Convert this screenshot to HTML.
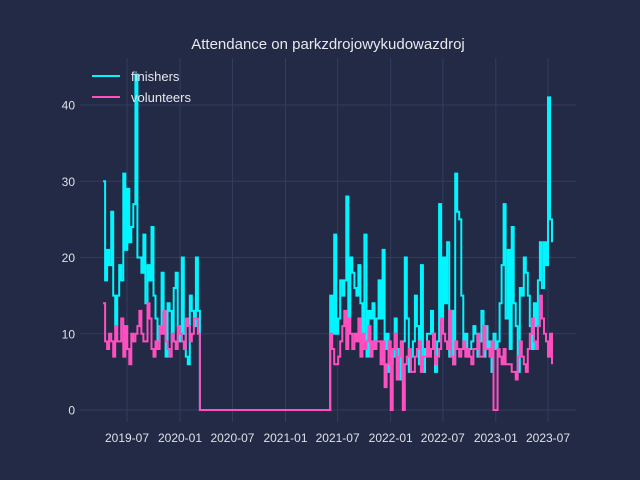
<!DOCTYPE html>
<html><head><meta charset="utf-8">
<style>
html,body{margin:0;padding:0;background:#222a45;}
svg{display:block;font-family:"Liberation Sans","DejaVu Sans",sans-serif;}
</style></head>
<body>
<svg id="chart" width="640" height="480" viewBox="0 0 640 480">
<rect x="0" y="0" width="640" height="480" fill="#222a45"/>
<g id="grid"></g>
<g id="ticks"></g>
<g id="series"></g>
<text x="328" y="49" text-anchor="middle" font-size="15" fill="#e8e8ee">Attendance on parkzdrojowykudowazdroj</text>
<g>
<g>
<line x1="92" y1="76" x2="120" y2="76" stroke="#00f5ff" stroke-width="2"/>
<text x="131" y="81" font-size="13" fill="#e8e8ee">finishers</text></g>
<g>
<line x1="92" y1="97" x2="120" y2="97" stroke="#ff4fbf" stroke-width="2"/>
<text x="131" y="102" font-size="13" fill="#e8e8ee">volunteers</text></g>
</g>
</svg>
<script>
const seg1Start = "2019-04-09";
const seg2Start = "2021-06-05";
const gapStart = "2020-03-10";
const finishers1 = [30,17,21,19,26,15,11,15,19,17,31,21,29,22,24,27,44,20,20,18,23,14,19,17,24,15,12,9,11,18,13,7,14,13,9,16,18,11,9,20,10,7,6,15,13,11,20,13];
const volunteers1 = [14,9,8,10,9,7,11,9,9,12,7,11,8,6,10,9,10,11,13,10,9,9,14,12,8,7,9,8,11,10,13,9,8,7,10,9,8,11,10,9,8,12,11,9,10,12,12,10];
const finishers2 = [15,10,23,10,12,17,15,17,28,12,20,18,16,15,19,14,
9,23,7,13,12,14,9,12,17,12,21,8,10,5,6,7,
12,8,4,7,9,20,12,5,7,9,15,11,6,19,5,8,
10,10,13,10,5,9,27,12,20,14,22,7,13,6,31,26,
25,15,8,10,7,8,9,11,10,7,9,13,7,11,8,9,
5,10,8,9,14,19,27,12,21,8,24,14,11,5,16,15,
20,18,15,11,8,14,11,17,22,16,22,19,41,25,22];
const volunteers2 = [10,8,6,6,7,9,11,13,8,12,10,8,10,9,12,7,
10,8,9,11,7,9,8,9,9,6,9,3,6,9,0,8,
10,4,7,9,0,6,7,8,5,5,7,8,9,5,7,7,
9,7,8,10,6,7,8,12,10,9,8,13,7,6,9,8,
7,8,9,7,8,7,6,8,8,10,7,7,11,8,8,7,
9,0,0,8,7,6,8,6,6,6,5,5,4,7,9,7,
6,5,8,10,12,9,8,11,15,12,10,9,7,10,6];
const yTicks = [0,10,20,30,40];
const xTickLabels = ["2019-07","2020-01","2020-07","2021-01","2021-07","2022-01","2022-07","2023-01","2023-07"];

const NS="http://www.w3.org/2000/svg";
const t0=Date.parse("2019-07-01"), t1=Date.parse("2023-07-01");
function xs(ms){return 127+(ms-t0)/(t1-t0)*(548-127);}
function ys(v){return 410-v*7.625;}
const DAY=86400000;
function weekly(start,n){const s=Date.parse(start);return Array.from({length:n},(_,i)=>s+i*7*DAY);}
const grid=document.getElementById('grid'),ticks=document.getElementById('ticks'),series=document.getElementById('series');
yTicks.forEach(v=>{
  const l=document.createElementNS(NS,'line');
  l.setAttribute('x1',80);l.setAttribute('x2',576);l.setAttribute('y1',ys(v));l.setAttribute('y2',ys(v));
  l.setAttribute('stroke','#323c5e');l.setAttribute('stroke-width','1');
  
  
  grid.appendChild(l);
  const t=document.createElementNS(NS,'text');
  t.setAttribute('x',75);t.setAttribute('y',ys(v)+4.5);t.setAttribute('text-anchor','end');
  t.setAttribute('font-size','12');t.setAttribute('fill','#e0e0e8');t.textContent=v;
  
  
  ticks.appendChild(t);
});
xTickLabels.forEach(s=>{
  const x=xs(Date.parse(s+"-01"));
  const l=document.createElementNS(NS,'line');
  l.setAttribute('x1',x);l.setAttribute('x2',x);l.setAttribute('y1',58);l.setAttribute('y2',422);
  l.setAttribute('stroke','#323c5e');l.setAttribute('stroke-width','1');
  
  
  grid.appendChild(l);
  const t=document.createElementNS(NS,'text');
  t.setAttribute('x',x);t.setAttribute('y',442);t.setAttribute('text-anchor','middle');
  t.setAttribute('font-size','12');t.setAttribute('fill','#e0e0e8');t.textContent=s;
  
  
  ticks.appendChild(t);
});
function buildPts(a,b){
  const d1=weekly(seg1Start,a.length), d2=weekly(seg2Start,b.length);
  const pts=[];
  d1.forEach((d,i)=>pts.push([d,a[i]]));
  pts.push([Date.parse(gapStart),0]);
  d2.forEach((d,i)=>pts.push([d,b[i]]));
  return pts;
}
function stepPath(pts){
  let p="M"+xs(pts[0][0]).toFixed(1)+","+ys(pts[0][1]).toFixed(1);
  for(let i=1;i<pts.length;i++){
    const x=xs(pts[i][0]).toFixed(1);
    p+="H"+x+"V"+ys(pts[i][1]).toFixed(1);
  }
  return p;
}
function draw(pts,color,name){
  const p=document.createElementNS(NS,'path');
  p.setAttribute('d',stepPath(pts));p.setAttribute('fill','none');
  p.setAttribute('stroke',color);p.setAttribute('stroke-width','2');
  
  
  series.appendChild(p);
}
draw(buildPts(finishers1,finishers2),'#00f5ff','finishers-line');
draw(buildPts(volunteers1,volunteers2),'#ff4fbf','volunteers-line');
</script>
</body></html>
